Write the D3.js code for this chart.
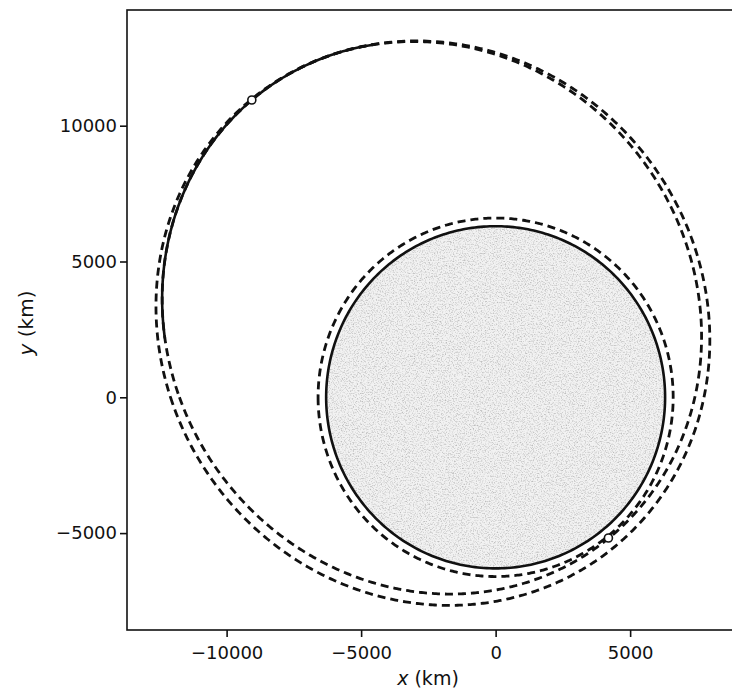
<!DOCTYPE html>
<html>
<head>
<meta charset="utf-8">
<script src="https://d3js.org/d3.v7.min.js"></script>
<style>
  body { margin: 0; background: #fff; }
  svg text { font-family: "DejaVu Sans", sans-serif; fill: #111; }
  .axis path, .axis line { stroke: #111; stroke-width: 1.6; }
  .axis text { font-size: 18px; }
</style>
</head>
<body>
<svg id="chart" width="732" height="695"></svg>
<script>
// ---- data (km) ----
const xTicks = [-10000, -5000, 0, 5000];
const yTicks = [-5000, 0, 5000, 10000];

const earthRadius = 6300;

// orbits: circular parking orbit + two transfer ellipses (focus at Earth centre)
const orbitNames  = ["parking", "transfer 1", "transfer 2"];
const periapsis   = [6600, 6678, 7060];
const apoapsis    = [6600, 14211, 14240];
const argPerigee  = [0, -51, -49.5];   // deg

// solid arc of transfer 1 near apogee (polar angle, deg)
const solidArcStart = 109;
const solidArcEnd   = 170;

// open markers: perigee point and apogee point
const markerX = [4193, -9063];
const markerY = [-5180, 10946];

// ---- layout ----
const svg = d3.select("#chart");
const mLeft = 127, mTop = 10, mBottom = 630, mRight = 745;

const x = d3.scaleLinear().domain([-13703, 9270]).range([mLeft, mRight]);
const y = d3.scaleLinear().domain([-8568, 14260]).range([mBottom, mTop]);

// conic r(theta) for an orbit
function orbitPoints(i, th0, th1) {
  const rp = periapsis[i], ra = apoapsis[i];
  const e = (ra - rp) / (ra + rp);
  const p = rp * (1 + e);
  const w = argPerigee[i] * Math.PI / 180;
  return d3.range(th0, th1 + 0.25, 0.5).map(t => {
    const th = t * Math.PI / 180;
    const r = p / (1 + e * Math.cos(th - w));
    return [r * Math.cos(th), r * Math.sin(th)];
  });
}
const line = d3.line().x(d => x(d[0])).y(d => y(d[1]));

// speckled Earth fill (scanned look)
const defs = svg.append("defs");
const f = defs.append("filter").attr("id", "speckle")
  .attr("x", 0).attr("y", 0).attr("width", 1).attr("height", 1);
f.append("feTurbulence").attr("type", "fractalNoise").attr("baseFrequency", 0.75)
  .attr("numOctaves", 3).attr("seed", 7).attr("result", "noise");
f.append("feColorMatrix").attr("in", "noise").attr("type", "matrix")
  .attr("values", "0 0 0 0 0.5  0 0 0 0 0.5  0 0 0 0 0.5  -2.6 0 0 0 1.4")
  .attr("result", "dots");
f.append("feComposite").attr("in", "dots").attr("in2", "SourceGraphic").attr("operator", "in");

defs.append("clipPath").attr("id", "plotclip").append("rect")
  .attr("x", mLeft).attr("y", mTop).attr("width", mRight - mLeft).attr("height", mBottom - mTop);

const plot = svg.append("g").attr("clip-path", "url(#plotclip)");

const earthPath = line(d3.range(0, 360.5, 1).map(t => [earthRadius * Math.cos(t * Math.PI / 180), earthRadius * Math.sin(t * Math.PI / 180)]));
plot.append("path").attr("d", earthPath).attr("fill", "#f2f2f2");
plot.append("path").attr("d", earthPath).attr("fill", "#fff").attr("filter", "url(#speckle)");
plot.append("path").attr("d", earthPath).attr("fill", "none")
  .attr("stroke", "#111").attr("stroke-width", 2.6);

// dashed orbits
orbitNames.forEach((name, i) => {
  plot.append("path")
    .attr("d", line(orbitPoints(i, -180, 180)))
    .attr("fill", "none")
    .attr("stroke", "#111")
    .attr("stroke-width", 2.8)
    .attr("stroke-dasharray", "8,5");
});

// solid arc
plot.append("path")
  .attr("d", line(orbitPoints(1, solidArcStart, solidArcEnd)))
  .attr("fill", "none").attr("stroke", "#111").attr("stroke-width", 2.6);

// markers
plot.selectAll("circle.mk").data(markerX).enter().append("circle")
  .attr("class", "mk")
  .attr("cx", d => x(d)).attr("cy", (d, i) => y(markerY[i]))
  .attr("r", 4).attr("fill", "#fff").attr("stroke", "#111").attr("stroke-width", 1.6);

// frame
svg.append("rect").attr("x", mLeft).attr("y", mTop)
  .attr("width", mRight - mLeft).attr("height", mBottom - mTop)
  .attr("fill", "none").attr("stroke", "#111").attr("stroke-width", 1.6);

// axes
const fmt = d3.format("d");
svg.append("g").attr("class", "axis").attr("transform", `translate(0,${mBottom})`)
  .call(d3.axisBottom(x).tickValues(xTicks).tickFormat(fmt).tickSize(7).tickPadding(9).tickSizeOuter(0))
  .call(g => g.select(".domain").remove());
svg.append("g").attr("class", "axis").attr("transform", `translate(${mLeft},0)`)
  .call(d3.axisLeft(y).tickValues(yTicks).tickFormat(fmt).tickSize(7).tickPadding(3).tickSizeOuter(0))
  .call(g => g.select(".domain").remove());

// axis labels (centred on the full axes box, whose right side is cut off in the scan)
const xl = svg.append("text").attr("x", 428).attr("y", 685)
  .attr("text-anchor", "middle").attr("font-size", 19);
xl.append("tspan").attr("font-style", "italic").text("x");
xl.append("tspan").text(" (km)");

const yl = svg.append("text")
  .attr("transform", `translate(33,${(mTop + mBottom) / 2 + 3}) rotate(-90)`)
  .attr("text-anchor", "middle").attr("font-size", 20);
yl.append("tspan").attr("font-style", "italic").text("y");
yl.append("tspan").text(" (km)");
</script>
</body>
</html>
